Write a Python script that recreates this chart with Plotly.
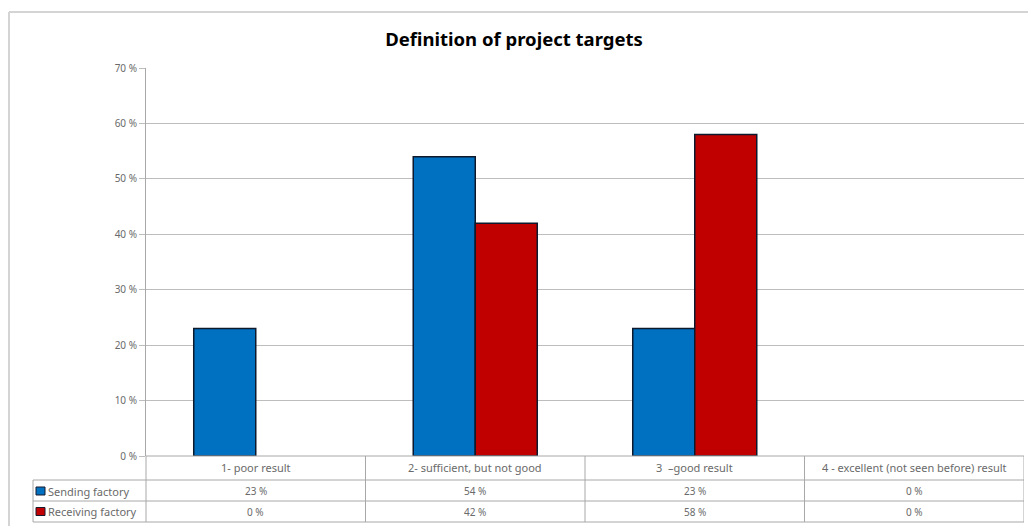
import plotly.graph_objects as go

categories = ["1- poor result", "2- sufficient, but not good", "3  \u2013good result",
              "4 - excellent (not seen before) result"]
series_names = ["Sending factory", "Receiving factory"]
sending = [23, 54, 23, 0]
receiving = [0, 42, 58, 0]
colors = ["#0070C0", "#C00000"]
y_ticks = [0, 10, 20, 30, 40, 50, 60, 70]
y_tick_text = [f"{v} %" for v in y_ticks]

W, H = 1028, 526
def px(x):
    return x / W
def py(y):
    return 1 - y / H

xs = list(range(len(categories)))
fig = go.Figure()
for name, vals, col in zip(series_names, [sending, receiving], colors):
    fig.add_trace(go.Bar(x=xs, y=vals, name=name,
                         marker=dict(color=col, line=dict(color="#0d1a2e",
                                                          width=[1.5 if v > 0 else 0 for v in vals])),
                         showlegend=False))

grid_col = "#bdbdbd"
line_col = "#a8a8a8"
txt_col = "#6a6a6a"
font_fam = "Noto Sans"
row_y = [491, 511.5]

shapes = []
# outer frame
shapes.append(dict(type="line", xref="paper", yref="paper", x0=px(9), x1=1, y0=py(12), y1=py(12),
                   line=dict(color="#d4d4d4", width=2)))
shapes.append(dict(type="line", xref="paper", yref="paper", x0=px(9), x1=px(9), y0=py(12), y1=0,
                   line=dict(color="#d4d4d4", width=2)))
# table horizontal lines
for yy in [480, 501, 522]:
    shapes.append(dict(type="line", xref="paper", yref="paper", x0=px(33), x1=px(1024), y0=py(yy), y1=py(yy),
                       line=dict(color=line_col, width=1)))
shapes.append(dict(type="line", xref="paper", yref="paper", x0=px(146), x1=px(1024), y0=py(456), y1=py(456),
                   line=dict(color=line_col, width=1)))
# left column vertical lines
shapes.append(dict(type="line", xref="paper", yref="paper", x0=px(33), x1=px(33), y0=py(480), y1=py(522),
                   line=dict(color=line_col, width=1)))
shapes.append(dict(type="line", xref="paper", yref="paper", x0=px(146), x1=px(146), y0=py(456), y1=py(522),
                   line=dict(color=line_col, width=1)))
# category boundaries
for i in xs:
    shapes.append(dict(type="line", xref="x", yref="paper", x0=i + 0.5, x1=i + 0.5, y0=py(456), y1=py(522),
                       line=dict(color=line_col, width=1)))
# legend keys
for col, yc in zip(colors, row_y):
    shapes.append(dict(type="rect", xref="paper", yref="paper", x0=px(36), x1=px(45), y0=py(yc - 4), y1=py(yc + 4),
                       fillcolor=col, line=dict(color="#1a1a2e", width=1)))

annotations = []
tf = dict(family=font_fam, size=11, color=txt_col)
for i, c in enumerate(categories):
    annotations.append(dict(x=i, y=py(468), xref="x", yref="paper", text=c, showarrow=False,
                            font=tf, xanchor="center", yanchor="middle"))
for vals, yc in zip([sending, receiving], row_y):
    for i, v in enumerate(vals):
        annotations.append(dict(x=i, y=py(yc), xref="x", yref="paper", text=f"{v} %", showarrow=False,
                                font=dict(family=font_fam, size=10, color=txt_col),
                                xanchor="center", yanchor="middle"))
for name, yc in zip(series_names, row_y):
    annotations.append(dict(x=px(46), y=py(yc), xref="paper", yref="paper", text=name, showarrow=False,
                            font=tf, xanchor="left", yanchor="middle"))

fig.update_layout(
    width=W, height=H,
    margin=dict(l=0, r=0, t=0, b=0, pad=0, autoexpand=False),
    paper_bgcolor="white", plot_bgcolor="white",
    barmode="group", bargap=0.435, bargroupgap=0,
    title=dict(text="<b>Definition of project targets</b>", x=0.5, xanchor="center",
               y=py(40), yanchor="middle", font=dict(family=font_fam, size=18.5, color="#000000")),
    xaxis=dict(domain=[px(146), px(1024)], range=[-0.5, 3.5], showticklabels=False, showgrid=False,
               zeroline=False, showline=False, ticks="", automargin=False),
    yaxis=dict(domain=[py(456), py(68)], range=[0, 70], tickmode="array", tickvals=y_ticks, ticktext=y_tick_text,
               showgrid=True, gridcolor=grid_col, gridwidth=1, zeroline=False,
               showline=True, linecolor=line_col, linewidth=1,
               ticks="outside", ticklen=6, tickcolor=grid_col, automargin=False,
               tickfont=dict(family=font_fam, size=10, color=txt_col)),
    shapes=shapes, annotations=annotations,
)
fig.write_html("out.html")
